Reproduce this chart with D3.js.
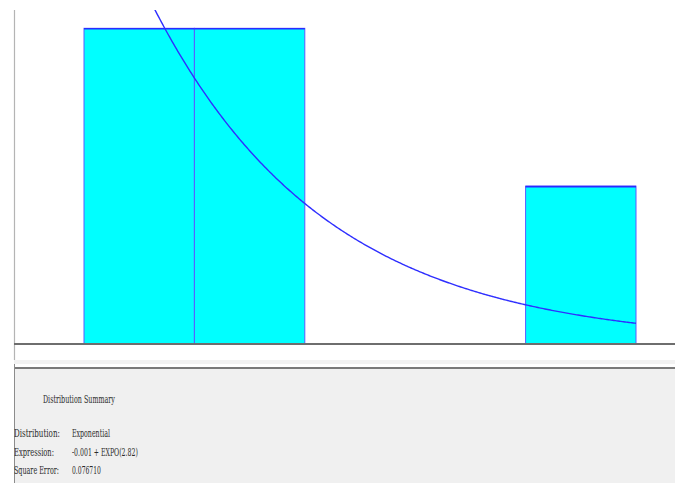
<!DOCTYPE html>
<html>
<head>
<meta charset="utf-8">
<script src="https://cdn.jsdelivr.net/npm/d3@7/dist/d3.min.js"></script>
<style>
  html, body { margin: 0; padding: 0; background: #fff; }
  svg { display: block; }
</style>
</head>
<body>
<svg id="chart" width="678" height="483"></svg>
<script>
// Histogram bins (relative frequency) of the observed data
const binEdges = [0, 1.8, 3.6, 5.4, 7.2, 9.0];
const relFreq = [0.4, 0.4, 0, 0, 0.2];

// Fitted distribution: -0.001 + EXPO(2.82)
const fitOffset = -0.001;
const fitMean = 2.82;

// Summary panel text
const summaryTitle = "Distribution Summary";
const summaryLabels = ["Distribution:", "Expression:", "Square Error:"];
const summaryValues = ["Exponential", "-0.001 + EXPO(2.82)", "0.076710"];

const W = 678, H = 483;
const plot = { left: 84, right: 636, top: 10, base: 344 };
const yMax = 0.4232;

const svg = d3.select("#chart");

const x = d3.scaleLinear().domain([binEdges[0], binEdges[binEdges.length - 1]]).range([plot.left, plot.right]);
const y = d3.scaleLinear().domain([0, yMax]).range([plot.base, plot.top]);

// Vertical axis line
svg.append("line")
  .attr("x1", 14.5).attr("x2", 14.5).attr("y1", 10).attr("y2", 360)
  .attr("stroke", "#b4b4b4").attr("stroke-width", 1.2);

// Histogram bars
const bins = relFreq.map((v, i) => ({ x0: binEdges[i], x1: binEdges[i + 1], v }));
const barG = svg.append("g");
barG.selectAll("rect")
  .data(bins.filter(d => d.v > 0))
  .join("rect")
  .attr("x", d => x(d.x0))
  .attr("y", d => y(d.v))
  .attr("width", d => x(d.x1) - x(d.x0))
  .attr("height", d => y(0) - y(d.v))
  .attr("fill", "#00ffff")
  .attr("stroke", "#5a5aff")
  .attr("stroke-width", 1);
// darker top edges of the bars
barG.selectAll("line.top")
  .data(bins.filter(d => d.v > 0))
  .join("line")
  .attr("class", "top")
  .attr("x1", d => x(d.x0)).attr("x2", d => x(d.x1))
  .attr("y1", d => y(d.v) + 0.5).attr("y2", d => y(d.v) + 0.5)
  .attr("stroke", "#2a2aff").attr("stroke-width", 1.6);

// Fitted density curve, scaled to the bin width
const binW = binEdges[1] - binEdges[0];
const dens = t => (binW / fitMean) * Math.exp(-(t - fitOffset) / fitMean);
const samples = d3.range(0, 401).map(i => binEdges[0] + (binEdges[binEdges.length - 1] - binEdges[0]) * i / 400);

svg.append("clipPath").attr("id", "plotclip")
  .append("rect").attr("x", 14).attr("y", plot.top).attr("width", 662).attr("height", plot.base - plot.top);

svg.append("path")
  .datum(samples)
  .attr("clip-path", "url(#plotclip)")
  .attr("fill", "none")
  .attr("stroke", "#2f2fff")
  .attr("stroke-width", 1.4)
  .attr("d", d3.line().x(t => x(t)).y(t => y(dens(t))));

// Baseline
svg.append("line")
  .attr("x1", 14).attr("x2", 675).attr("y1", plot.base).attr("y2", plot.base)
  .attr("stroke", "#6e6e6e").attr("stroke-width", 2);

// Summary panel
svg.append("rect").attr("x", 14).attr("y", 360).attr("width", 661).attr("height", 4).attr("fill", "#f2f2f2");
svg.append("rect").attr("x", 14).attr("y", 369).attr("width", 661).attr("height", H - 369).attr("fill", "#f0f0f0");
svg.append("line")
  .attr("x1", 14).attr("x2", 675).attr("y1", 368).attr("y2", 368)
  .attr("stroke", "#7a7a7a").attr("stroke-width", 2);
svg.append("line")
  .attr("x1", 14.5).attr("x2", 14.5).attr("y1", 364).attr("y2", H)
  .attr("stroke", "#8c8c8c").attr("stroke-width", 1);

// Condensed text: each string is squeezed horizontally to its target width
const font = "'DejaVu Serif', serif";
const txt = (s, tx, ty, len) => {
  const g = svg.append("g");
  const t = g.append("text")
    .attr("x", 0).attr("y", 0)
    .attr("font-family", font).attr("font-size", 10.5)
    .attr("fill", "#2a2a2a")
    .text(s);
  const natural = t.node().getComputedTextLength();
  g.attr("transform", `translate(${tx},${ty}) scale(${len / natural},1)`);
};

txt(summaryTitle, 43, 403, 72);
const rowsY = [437, 456, 474];
const labelLens = [46, 40, 45];
const valueLens = [38, 66, 29];
summaryLabels.forEach((s, i) => txt(s, 14, rowsY[i], labelLens[i]));
summaryValues.forEach((s, i) => txt(s, 72, rowsY[i], valueLens[i]));
</script>
</body>
</html>
